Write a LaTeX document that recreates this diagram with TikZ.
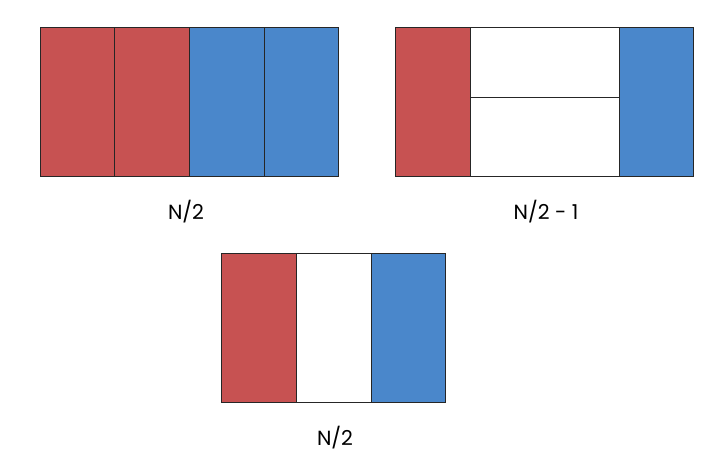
\documentclass[tikz,border=0pt]{standalone}
\usepackage{fontspec}
\setmainfont{Poppins}
\definecolor{cred}{HTML}{C75252}
\definecolor{cblue}{HTML}{4A87CB}
\begin{document}
\begin{tikzpicture}[x=1pt,y=-1pt,
  cell/.style={draw=black!85,line width=0.9pt},
  lbl/.style={font=\fontsize{20.5}{24}\selectfont,inner sep=0pt}]
\useasboundingbox (0,0) rectangle (724,461);
% top-left
\fill[cred] (40,27) rectangle (189,176);
\fill[cblue] (189,27) rectangle (338,176);
\draw[cell] (40,27) rectangle (338,176);
\draw[cell] (114,27) -- (114,176) (189,27) -- (189,176) (264,27) -- (264,176);
\node[lbl] (l1) at (186,212) {N/2};
% top-right
\fill[cred] (395,27) rectangle (470,176);
\fill[white] (470,27) rectangle (619,176);
\fill[cblue] (619,27) rectangle (693,176);
\draw[cell] (395,27) rectangle (693,176);
\draw[cell] (470,27) -- (470,176) (619,27) -- (619,176) (470,97) -- (619,97);
\node[lbl] (l2) at (546,212) {N/2 - 1};
% bottom
\fill[cred] (221,253) rectangle (296,402);
\fill[white] (296,253) rectangle (371,402);
\fill[cblue] (371,253) rectangle (445,402);
\draw[cell] (221,253) rectangle (445,402);
\draw[cell] (296,253) -- (296,402) (371,253) -- (371,402);
\node[lbl] (l3) at (335,438) {N/2};
\end{tikzpicture}
\end{document}
